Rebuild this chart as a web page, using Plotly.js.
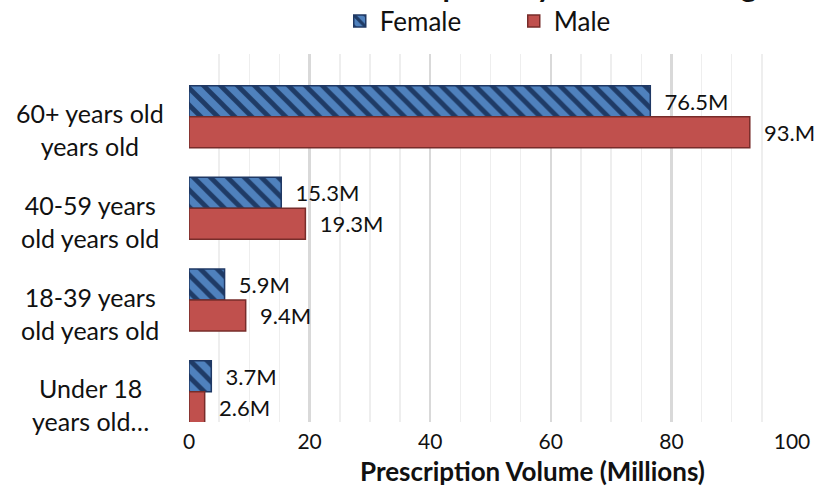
<!DOCTYPE html>
<html>
<head>
<meta charset="utf-8">
<script src="https://cdn.plot.ly/plotly-3.0.1.min.js"></script>
<style>html,body{margin:0;padding:0;background:#fff}#chart{width:814px;height:486px}</style>
</head>
<body>
<div id="chart"></div>
<script>
// ---- data ----
const categories = ['60+', '40-59', '18-39', 'Under 18'];
const tickLabels = ['60+ years old<br>years old', '40-59 years<br>old years old', '18-39 years<br>old years old', 'Under 18<br>years old\u2026'];
const seriesNames = ['Female', 'Male'];
const femaleValues = [76.5, 15.3, 5.9, 3.7];
const maleValues = [93.0, 19.3, 9.4, 2.6];
const femaleLabels = ['76.5M', '15.3M', '5.9M', '3.7M'];
const maleLabels = ['93.M', '19.3M', '9.4M', '2.6M'];
const xTicks = [0, 20, 40, 60, 80, 100];
const chartTitle = 'Prescription by Gender and Age Group';
const xTitle = 'Prescription Volume (Millions)';

const FONT = 'Lato, Carlito, Calibri, sans-serif';
const NB = '\u00A0';

const female = {
  type: 'bar', orientation: 'h', name: seriesNames[0],
  x: femaleValues, y: categories, text: femaleLabels,
  texttemplate: NB + NB + '%{text}', textposition: 'outside', cliponaxis: false,
  constraintext: 'none',
  textfont: {family: FONT, size: 22, color: '#111'},
  marker: {
    color: '#4F81BD',
    line: {color: '#1F3864', width: 1.5},
    pattern: {shape: '\\', fgcolor: '#1F3B66', bgcolor: '#4F81BD', size: 12, solidity: 0.4, fillmode: 'replace'}
  },
  hoverinfo: 'x+name'
};
const male = {
  type: 'bar', orientation: 'h', name: seriesNames[1],
  x: maleValues, y: categories, text: maleLabels,
  texttemplate: NB + NB + '%{text}', textposition: 'outside', cliponaxis: false,
  constraintext: 'none',
  textfont: {family: FONT, size: 22, color: '#111'},
  marker: {color: '#C0504D', line: {color: '#772C2A', width: 1.5}},
  hoverinfo: 'x+name'
};

const yLabelAnnotations = categories.map((c, i) => ({
  xref: 'paper', yref: 'y', x: -0.164, y: c,
  text: tickLabels[i], showarrow: false,
  xanchor: 'center', yanchor: 'middle', yshift: -13, align: 'center',
  font: {family: FONT, size: 25, color: '#111'}
}));

const xTitleAnnotation = {
  xref: 'paper', yref: 'paper', x: 0.569, y: -0.1332,
  xanchor: 'center', yanchor: 'middle', showarrow: false,
  text: '<b>' + xTitle + '</b>',
  font: {family: FONT, size: 26, color: '#111'}
};

const layout = {
  width: 814, height: 486,
  margin: {l: 189, r: 22, t: 54, b: 64, autoexpand: false},
  paper_bgcolor: '#fff', plot_bgcolor: '#fff',
  font: {family: FONT, color: '#111'},
  title: {
    text: chartTitle, xref: 'container', yref: 'container',
    x: 0.431, xanchor: 'left', y: 1, yanchor: 'bottom', pad: {b: 3},
    font: {family: FONT, size: 30, weight: 'bold', color: '#111'}
  },
  barmode: 'group', bargap: 0.324, bargroupgap: 0,
  xaxis: {
    range: [0, 100], tickvals: xTicks, ticktext: xTicks.map(String),
    tickfont: {family: FONT, size: 21, color: '#111'},
    showgrid: true, gridcolor: '#D9D9D9', gridwidth: 2.5,
    minor: {dtick: 5, showgrid: true, gridcolor: '#EEEEEE', gridwidth: 1.5},
    zeroline: false, showline: false, ticks: '', ticklabelstandoff: 5,
    fixedrange: true
  },
  yaxis: {
    type: 'category', categoryorder: 'array', categoryarray: categories,
    range: [3.33, -0.683], showticklabels: false, showgrid: false,
    zeroline: false, showline: false, ticks: '', fixedrange: true
  },
  showlegend: true,
  legend: {
    orientation: 'h', x: 0.25, xanchor: 'left', y: 1.0897, yanchor: 'middle',
    font: {family: FONT, size: 26, color: '#111'},
    entrywidth: 129, entrywidthmode: 'pixels', bgcolor: 'rgba(0,0,0,0)'
  },
  annotations: yLabelAnnotations.concat([xTitleAnnotation])
};

Plotly.newPlot('chart', [female, male], layout, {displayModeBar: false, staticPlot: true});
</script>
</body>
</html>
